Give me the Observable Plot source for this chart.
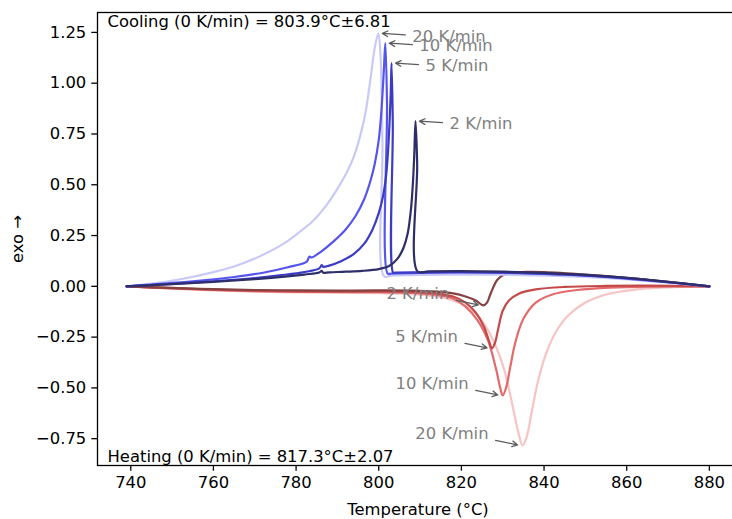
<!DOCTYPE html>
<html><head><meta charset="utf-8">
<script src="https://cdn.jsdelivr.net/npm/d3@7"></script>
<script src="https://cdn.jsdelivr.net/npm/@observablehq/plot@0.6"></script>
<style>
  html, body { margin: 0; padding: 0; background: #fff; overflow: hidden; }
  #chart svg { display: block; }
</style>
</head><body><div id="chart"></div><script>
// DSC traces: heat flow (exo up) versus temperature, four scan rates.
const rates = [2, 5, 10, 20];
const rateLabels = ["2 K/min", "5 K/min", "10 K/min", "20 K/min"];

// Cooling traces, listed in scan order (880 °C down to 739 °C): [T, signal]
const cooling2 = [[880,0],[870,0.022],[860,0.042],[850,0.056],[840,0.066],[830,0.072],[820,0.075],[812,0.074],[809.4,0.073],[809.3,0.6],[808.9,0.813],[808.6,0.65],[808.3,0.52],[807.8,0.38],[807,0.26],[806,0.19],[804.5,0.135],[802.5,0.1],[800,0.085],[796,0.076],[792,0.072],[788,0.069],[786.6,0.067],[786.2,0.076],[785.6,0.068],[782,0.058],[776,0.045],[770,0.035],[760,0.022],[750,0.011],[739,0]];
const cooling5 = [[880,0],[870,0.021],[860,0.04],[850,0.054],[840,0.063],[830,0.068],[820,0.07],[810,0.069],[804,0.067],[803.5,0.067],[803.4,0.8],[803.1,1.099],[802.9,0.95],[802.6,0.8],[802.2,0.65],[801.7,0.53],[801,0.44],[800,0.36],[798.5,0.28],[796.5,0.21],[794,0.16],[791,0.125],[788,0.102],[786.6,0.096],[786.2,0.104],[785.6,0.088],[782,0.07],[776,0.054],[770,0.041],[760,0.025],[750,0.012],[739,0]];
const cooling10 = [[880,0],[870,0.02],[860,0.038],[850,0.052],[840,0.061],[830,0.066],[820,0.068],[810,0.066],[803,0.063],[802.2,0.062],[802.0,0.9],[801.6,1.197],[801.2,1.05],[800.6,0.85],[800,0.72],[799,0.6],[798,0.52],[796.5,0.43],[794.5,0.35],[792,0.28],[789,0.22],[786,0.17],[783.8,0.142],[783.2,0.146],[782.6,0.122],[778,0.094],[772,0.067],[765,0.046],[755,0.024],[745,0.009],[739,0]];
const cooling20 = [[880,0],[870,0.018],[860,0.034],[850,0.046],[840,0.053],[830,0.057],[820,0.058],[810,0.056],[803,0.052],[801.3,0.05],[800.9,0.7],[800.4,1.15],[799.9,1.245],[799,1.17],[798,1.02],[797,0.88],[796,0.78],[794,0.64],[792,0.55],[790,0.48],[787,0.39],[784,0.32],[781,0.27],[777,0.21],[772,0.155],[766,0.105],[760,0.07],[752,0.035],[745,0.013],[739,0]];

// Heating traces, listed in scan order (739 °C up to 880 °C): [T, signal]
const heating2 = [[739,0],[750,-0.008],[760,-0.014],[770,-0.018],[780,-0.02],[790,-0.021],[800,-0.02],[808,-0.021],[814,-0.026],[818,-0.035],[821,-0.05],[823.5,-0.07],[825.3,-0.094],[826.2,-0.08],[826.9,-0.045],[827.6,-0.01],[828.6,0.03],[830,0.055],[832,0.066],[836,0.071],[840,0.07],[850,0.058],[860,0.042],[870,0.022],[880,0]];
const heating5 = [[739,0],[750,-0.009],[760,-0.016],[770,-0.021],[780,-0.024],[790,-0.025],[800,-0.025],[808,-0.027],[814,-0.035],[818,-0.05],[821,-0.08],[823.5,-0.13],[825.5,-0.2],[826.7,-0.27],[827.4,-0.305],[828.1,-0.28],[829,-0.2],[830,-0.12],[831.5,-0.07],[834,-0.035],[838,-0.015],[845,-0.003],[855,0.002],[865,0.003],[880,0]];
const heating10 = [[739,0],[750,-0.01],[760,-0.018],[770,-0.024],[780,-0.027],[790,-0.028],[800,-0.029],[808,-0.032],[814,-0.042],[818,-0.06],[821,-0.1],[824,-0.17],[826.5,-0.27],[828.3,-0.4],[829.4,-0.5],[830.0,-0.537],[830.8,-0.5],[831.8,-0.4],[833,-0.28],[835,-0.16],[838,-0.08],[842,-0.04],[848,-0.018],[856,-0.006],[866,-0.001],[880,0]];
const heating20 = [[739,0],[750,-0.011],[760,-0.02],[770,-0.026],[780,-0.03],[790,-0.032],[800,-0.034],[808,-0.038],[814,-0.05],[818,-0.07],[822,-0.11],[825,-0.17],[828,-0.28],[830.5,-0.42],[832.5,-0.6],[833.8,-0.72],[834.8,-0.783],[835.8,-0.74],[837,-0.62],[838.5,-0.47],[840.5,-0.33],[843,-0.22],[846,-0.14],[850,-0.08],[855,-0.04],[862,-0.016],[870,-0.005],[880,0]];

// Peak positions called out in the annotations
const coolingPeakT = [808.9, 803.1, 801.6, 799.9];
const coolingPeakV = [0.813, 1.099, 1.197, 1.245];
const heatingPeakT = [825.3, 827.4, 830.0, 834.8];
const heatingPeakV = [-0.094, -0.305, -0.537, -0.783];

// Zero-rate extrapolations
const coolingNote = "Cooling (0 K/min) = 803.9°C±6.81";
const heatingNote = "Heating (0 K/min) = 817.3°C±2.07";

const xTicks = [740, 760, 780, 800, 820, 840, 860, 880];
const yTicks = [-0.75, -0.5, -0.25, 0, 0.25, 0.5, 0.75, 1, 1.25];

// Layout
const W = 732, H = 519;
const mL = 97, mR = -6, mT = 12, mB = 54;
const xDomain = [731.95, 887.05], yDomain = [-0.882, 1.348];
const pxPerT = (W - mR - mL) / (xDomain[1] - xDomain[0]);
const pxPerV = (H - mB - mT) / (yDomain[1] - yDomain[0]);
const FONT = 16.4;

const coolColors = ["#2e2e6a", "#3b3bc4", "#5555ee", "#c9c9f7"];
const heatColors = ["#854242", "#c44a4a", "#e26a6a", "#f7c3c3"];

const toRows = (pts) => pts.map(([T, v]) => ({T, v}));
const coolingCurves = [cooling2, cooling5, cooling10, cooling20];
const heatingCurves = [heating2, heating5, heating10, heating20];

// Annotation geometry (pixel offsets converted to data units)
const off = (T, v, dx, dy) => ({T: T + dx / pxPerT, v: v - dy / pxPerV});
const coolAnn = rates.map((r, i) => {
  const T = coolingPeakT[i], v = coolingPeakV[i];
  const t = off(T, v, 34, 3), a = off(T, v, 27, 1.5), b = off(T, v, 4, 0);
  return {label: rateLabels[i], tT: t.T, tv: t.v, x1: a.T, y1: a.v, x2: b.T, y2: b.v};
});
const heatAnn = rates.map((r, i) => {
  const T = heatingPeakT[i], v = heatingPeakV[i];
  const t = off(T, v, -34, -12), a = off(T, v, -27, -5), b = off(T, v, -5, -0.5);
  return {label: rateLabels[i], tT: t.T, tv: t.v, x1: a.T, y1: a.v, x2: b.T, y2: b.v};
});

const marks = [];
// heating traces, fastest rate underneath
for (let i = 3; i >= 0; i--) {
  marks.push(Plot.line(toRows(heatingCurves[i]), {x: "T", y: "v", stroke: heatColors[i], strokeWidth: 2.2, curve: "catmull-rom"}));
}
for (let i = 3; i >= 0; i--) {
  marks.push(Plot.line(toRows(coolingCurves[i]), {x: "T", y: "v", stroke: coolColors[i], strokeWidth: 2.2, curve: "catmull-rom"}));
}

marks.push(
  Plot.arrow(coolAnn, {x1: "x1", y1: "y1", x2: "x2", y2: "y2", stroke: "#5c5c5c", strokeWidth: 1.3, headLength: 7, headAngle: 55}),
  Plot.arrow(heatAnn, {x1: "x1", y1: "y1", x2: "x2", y2: "y2", stroke: "#5c5c5c", strokeWidth: 1.3, headLength: 7, headAngle: 55}),
  Plot.text(coolAnn, {x: "tT", y: "tv", text: "label", textAnchor: "start", lineAnchor: "middle", fill: "#808080", fontSize: FONT}),
  Plot.text(heatAnn, {x: "tT", y: "tv", text: "label", textAnchor: "end", lineAnchor: "middle", fill: "#808080", fontSize: FONT}),
  Plot.text([coolingNote], {text: d => d, frameAnchor: "top-left", dx: 10, dy: 3, lineAnchor: "top", textAnchor: "start", fill: "#000", fontSize: FONT}),
  Plot.text([heatingNote], {text: d => d, frameAnchor: "bottom-left", dx: 10, dy: -4, lineAnchor: "bottom", textAnchor: "start", fill: "#000", fontSize: FONT}),
  Plot.frame({stroke: "#000", strokeWidth: 1.3}),
  Plot.axisX({ticks: xTicks, tickSize: 5.7, tickPadding: 5.5, tickFormat: d3.format("d"), fontSize: FONT, label: null, strokeWidth: 1.3}),
  Plot.axisY({ticks: yTicks, tickSize: 5.7, tickPadding: 5.5, tickFormat: d3.format(".2f"), fontSize: FONT, label: null, strokeWidth: 1.3}),
  Plot.text(["Temperature (°C)"], {text: d => d, frameAnchor: "bottom", dy: 44, lineAnchor: "middle", fill: "#000", fontSize: FONT}),
  Plot.text(["exo →"], {text: d => d, frameAnchor: "left", dx: -80, rotate: -90, lineAnchor: "middle", textAnchor: "middle", fill: "#000", fontSize: FONT})
);

const chart = Plot.plot({
  width: W, height: H,
  marginLeft: mL, marginRight: mR, marginTop: mT, marginBottom: mB,
  style: {fontFamily: "DejaVu Sans", background: "#fff", color: "#000", overflow: "hidden"},
  x: {domain: xDomain},
  y: {domain: yDomain},
  marks
});
document.getElementById("chart").append(chart);
</script></body></html>
